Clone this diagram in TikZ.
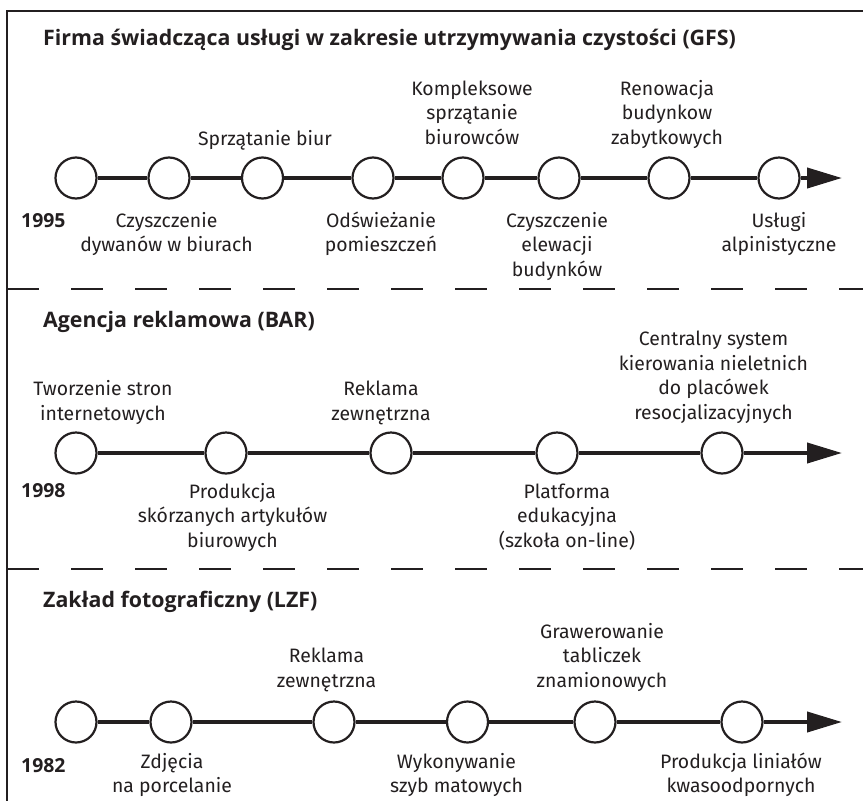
\documentclass[tikz,border=0pt]{standalone}
\usepackage{fontspec}
\setmainfont{Fira Sans}
\newfontfamily\headfont{Open Sans}
\usetikzlibrary{arrows.meta}
\definecolor{ink}{HTML}{231F20}
\begin{document}
\begin{tikzpicture}[x=1pt,y=-1pt,
  % multi-line labels sit on the baseline of their last line
  lbl/.style={text=ink, font=\fontsize{19.4}{24.5}\selectfont, align=center, anchor=base, inner sep=0pt},
  yearlbl/.style={text=ink, font=\headfont\bfseries\fontsize{19.4}{24.5}\selectfont, anchor=base west, inner sep=0pt},
  ttl/.style={text=ink, font=\headfont\bfseries\fontsize{21.35}{26}\selectfont, anchor=base west, inner sep=0pt},
  event/.style={circle, draw=ink, fill=white, line width=2.2pt, minimum size=41pt, inner sep=0pt},
  axis/.style={draw=ink, line width=4pt},
  tip/.style={-{Triangle[length=35pt,width=20pt]}},
  frame/.style={draw=ink, line width=1.2pt},
  sep/.style={draw=ink, line width=1.2pt, dash pattern=on 32pt off 32pt}
]
\useasboundingbox (0,0) rectangle (863,801);

% outer frame and section separators
\draw[frame] (7,801) -- (7,11) -- (863,11);
\draw[sep] (7,289) -- (863,289);
\draw[sep] (7,569) -- (863,569);

% ---------- GFS ----------
\node[ttl] (t1) at (43,45) {Firma świadcząca usługi w zakresie utrzymywania czystości (GFS)};
\foreach \n/\x in {1/76,2/169,3/262.5,4/373,5/463,6/559,7/669,8/779}
  \node[event] (a\n) at (\x,178) {};
\coordinate (aend) at (842,178);
\draw[axis] (a1) -- (a2) -- (a3) -- (a4) -- (a5) -- (a6) -- (a7) -- (a8);
\draw[axis,tip] (a8) -- (aend);
\node[yearlbl] (y1) at (21,227) {1995};
\node[lbl] (a2l) at (166.5,251.5) {Czyszczenie\\dywanów w biurach};
\node[lbl] (a3l) at (265,145) {Sprzątanie biur};
\node[lbl] (a4l) at (381,251.5) {Odświeżanie\\pomieszczeń};
\node[lbl] (a5l) at (472,144) {Kompleksowe\\sprzątanie\\biurowców};
\node[lbl] (a6l) at (557,276) {Czyszczenie\\elewacji\\budynków};
\node[lbl] (a7l) at (667,144) {Renowacja\\budynkow\\zabytkowych};
\node[lbl] (a8l) at (779,251.5) {Usługi\\alpinistyczne};

% ---------- BAR ----------
\node[ttl] (t2) at (43,327) {Agencja reklamowa (BAR)};
\foreach \n/\x in {1/76,2/226,3/391,4/557,5/722}
  \node[event] (b\n) at (\x,453) {};
\coordinate (bend) at (842,453);
\draw[axis] (b1) -- (b2) -- (b3) -- (b4) -- (b5);
\draw[axis,tip] (b5) -- (bend);
\node[yearlbl] (y2) at (21,497) {1998};
\node[lbl] (b1l) at (103,420) {Tworzenie stron\\internetowych};
\node[lbl] (b2l) at (232.5,547) {Produkcja\\skórzanych artykułów\\biurowych};
\node[lbl] (b3l) at (381,420) {Reklama\\zewnętrzna};
\node[lbl] (b4l) at (567,547) {Platforma\\edukacyjna\\(szkoła on-line)};
\node[lbl] (b5l) at (713.5,419) {Centralny system\\kierowania nieletnich\\do placówek\\resocjalizacyjnych};

% ---------- LZF ----------
\node[ttl] (t3) at (43,607) {Zakład fotograficzny (LZF)};
\foreach \n/\x in {1/76,2/171,3/334,4/467.5,5/595,6/742}
  \node[event] (c\n) at (\x,722) {};
\coordinate (cend) at (842,722);
\draw[axis] (c1) -- (c2) -- (c3) -- (c4) -- (c5) -- (c6);
\draw[axis,tip] (c6) -- (cend);
\node[yearlbl] (y3) at (21,772) {1982};
\node[lbl] (c2l) at (172,792.5) {Zdjęcia\\na porcelanie};
\node[lbl] (c3l) at (326.5,687) {Reklama\\zewnętrzna};
\node[lbl] (c4l) at (456.5,792.5) {Wykonywanie\\szyb matowych};
\node[lbl] (c5l) at (602,687) {Grawerowanie\\tabliczek\\znamionowych};
\node[lbl] (c6l) at (741,792.5) {Produkcja liniałów\\kwasoodpornych};
\end{tikzpicture}
\end{document}
